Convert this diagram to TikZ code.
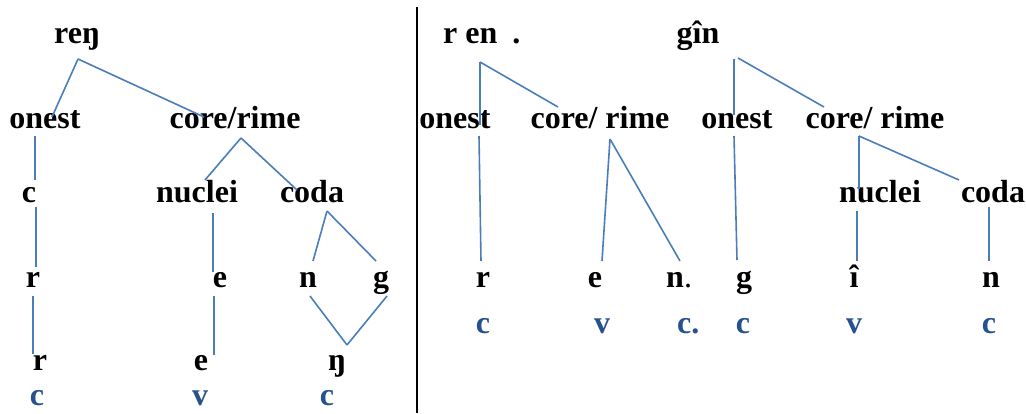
\documentclass[tikz,border=0pt]{standalone}
\usepackage{fontspec}
\setmainfont{Liberation Serif}
\usetikzlibrary{calc}
\definecolor{linkblue}{HTML}{4A7EBB}
\definecolor{textblue}{HTML}{25518E}
\begin{document}
\begin{tikzpicture}[x=1pt,y=-1pt,
  lbl/.style={inner sep=0pt,anchor=base,font=\fontsize{32}{38}\selectfont\bfseries},
  lblw/.style={lbl,anchor=base west},
  cv/.style={lbl,text=textblue},
  cvw/.style={lblw,text=textblue},
  link/.style={draw=linkblue,line width=1.6pt},
  divider/.style={draw=black,line width=1.8pt}]
\useasboundingbox (0,0) rectangle (1026,413);
% ---------- left tree ----------
\node[lbl] (reng) at (77,43) {reŋ};
\node[lbl] (onL) at (45,128) {onest};
\node[lbl] (crL) at (235,128) {core/rime};
\node[lbl] (cL) at (29,202) {c};
\node[lbl] (nuL) at (197,202) {nuclei};
\node[lbl] (coL) at (312,202) {coda};
\node[lbl] (rL) at (33,287) {r};
\node[lbl] (eL) at (220,287) {e};
\node[lbl] (nL) at (308,287) {n};
\node[lbl] (gL) at (381,287) {g};
\node[lbl] (rL2) at (40,370) {r};
\node[lbl] (eL2) at (201,370) {e};
\node[lbl] (engL) at (337,370) {ŋ};
\node[cv] (bc1) at (37,405) {c};
\node[cv] (bv1) at (200,405) {v};
\node[cv] (bc2) at (327,405) {c};
\draw[link] ($(reng.base)+(1,16)$) -- ($(onL.base)+(7,-11)$);
\draw[link] ($(reng.base)+(1,16)$) -- ($(crL.base)+(-31,-11)$);
\draw[link] ($(onL.base)+(-10,8)$) -- ($(cL.base)+(6,-22)$);
\draw[link] ($(crL.base)+(6,10)$) -- ($(nuL.base)+(8,-22)$);
\draw[link] ($(crL.base)+(6,10)$) -- ($(coL.base)+(-15,-12)$);
\draw[link] ($(cL.base)+(7,5)$) -- ($(rL.base)+(3,-20)$);
\draw[link] ($(nuL.base)+(16,11)$) -- ($(eL.base)+(-7,-15)$);
\draw[link] ($(coL.base)+(15,9)$) -- ($(nL.base)+(5,-26)$);
\draw[link] ($(coL.base)+(15,9)$) -- ($(gL.base)+(-5,-26)$);
\draw[link] ($(rL.base)+(0,9)$) -- ($(rL2.base)+(-7,-16)$);
\draw[link] ($(eL.base)+(-6,9)$) -- ($(eL2.base)+(13,-15)$);
\draw[link] ($(nL.base)+(2,9)$) -- ($(engL.base)+(10,-25)$);
\draw[link] ($(gL.base)+(6,9)$) -- ($(engL.base)+(10,-25)$);
% ---------- divider ----------
\coordinate (divTop) at (417,7);
\coordinate (divBot) at (417,413);
\draw[divider] (divTop) -- (divBot);
% ---------- right trees ----------
\node[lblw] (renR) at (443,43) {r en\hspace{15pt}.};
\node[lbl] (ginR) at (698,43) {gîn};
\node[lbl] (onR1) at (455,128) {onest};
\node[lbl] (crR1) at (600,128) {core/ rime};
\node[lbl] (onR2) at (737,128) {onest};
\node[lbl] (crR2) at (875,128) {core/ rime};
\node[lbl] (nuR) at (880,202) {nuclei};
\node[lbl] (coR) at (993,202) {coda};
\node[lbl] (rR) at (483,287) {r};
\node[lbl] (eR) at (595,287) {e};
\node[lblw] (nR) at (666,287) {n{\mdseries .}};
\node[lbl] (gR) at (744,287) {g};
\node[lbl] (iR) at (854,287) {î};
\node[lbl] (nR2) at (991,287) {n};
\node[cv] (bc3) at (483,333) {c};
\node[cv] (bv2) at (602,333) {v};
\node[cvw] (bc4) at (677,333) {c.};
\node[cv] (bc5) at (743,333) {c};
\node[cv] (bv3) at (854,333) {v};
\node[cv] (bc6) at (989,333) {c};
\draw[link] ($(renR.base west)+(37,19)$) -- ($(onR1.base)+(25,-3)$);
\draw[link] ($(renR.base west)+(37,19)$) -- ($(crR1.base)+(-42,-21)$);
\draw[link] ($(ginR.base)+(36,16)$) -- ($(onR2.base)+(-3,-13)$);
\draw[link] ($(ginR.base)+(40,15)$) -- ($(crR2.base)+(-51,-21)$);
\draw[link] ($(onR1.base)+(24,8)$) -- ($(rR.base)+(-2,-26)$);
\draw[link] ($(crR1.base)+(10,11)$) -- ($(eR.base)+(7,-26)$);
\draw[link] ($(crR1.base)+(10,11)$) -- ($(nR.base west)+(14,-26)$);
\draw[link] ($(onR2.base)+(-3,8)$) -- ($(gR.base)+(-7,-27)$);
\draw[link] ($(crR2.base)+(-16,8)$) -- ($(nuR.base)+(-21,-13)$);
\draw[link] ($(crR2.base)+(-16,8)$) -- ($(coR.base)+(-34,-22)$);
\draw[link] ($(nuR.base)+(-23,9)$) -- ($(iR.base)+(3,-26)$);
\draw[link] ($(coR.base)+(-4,5)$) -- ($(nR2.base)+(-2,-26)$);
\end{tikzpicture}
\end{document}
